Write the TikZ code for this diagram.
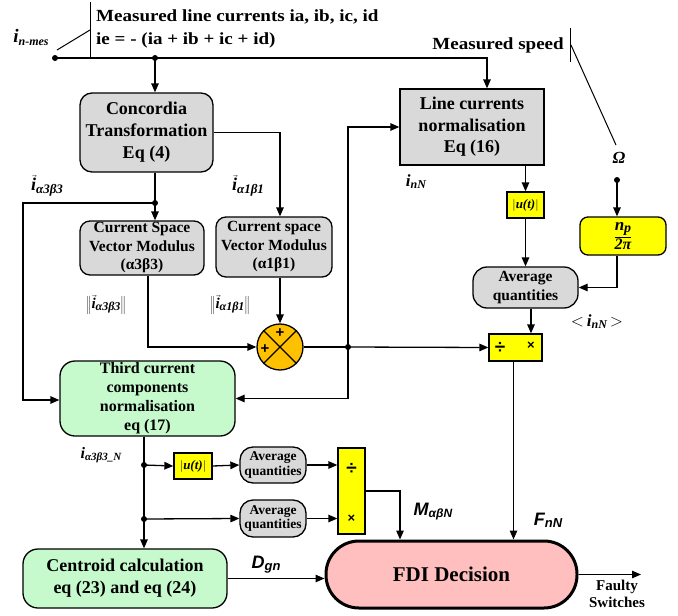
\documentclass[tikz,border=0pt]{standalone}
\usepackage{fontspec}
\setmainfont{Liberation Serif}
\newfontfamily\sansf{Liberation Sans}
\newfontfamily\widef[FakeStretch=1.12]{Liberation Serif}
\usetikzlibrary{arrows.meta}
\definecolor{gfill}{HTML}{D9D9D9}
\definecolor{yfill}{HTML}{FFFF00}
\definecolor{ofill}{HTML}{FFC000}
\definecolor{grfill}{HTML}{C6FACC}
\definecolor{pfill}{HTML}{FFBFBF}
\newcommand\bi[1]{{\bfseries\itshape #1}}
\newcommand\fs[2]{\fontsize{#1}{#2}\selectfont}
\begin{document}
\begin{tikzpicture}[x=1pt,y=-1pt,
  every node/.style={inner sep=0pt},
  ln/.style={line width=1.3pt},
  arr/.style={line width=1.3pt,-{Triangle[length=9pt,width=7.5pt]}},
  dot/.style={circle,fill=black,minimum size=6pt,inner sep=0pt},
  blk/.style={draw,line width=1.3pt,align=center},
  gblk/.style={blk,fill=gfill},
  yblk/.style={blk,fill=yfill},
  grblk/.style={blk,fill=grfill},
  opsign/.style={font=\sansf\bfseries\fs{19}{19}},
  mulsign/.style={font=\sansf\bfseries\fs{13}{13}},
]
\useasboundingbox (0,0) rectangle (678,616);

% ---------- blocks ----------
\node[gblk,rounded corners=12pt,minimum width=133pt,minimum height=79pt,font=\bfseries\fs{18}{22}] (conc) at (146.5,132.5) {Concordia\\Transformation\\Eq (4)};
\node[gblk,minimum width=144pt,minimum height=76pt,font=\bfseries\fs{18}{21.5}] (lcn) at (472,127) {Line currents\\normalisation\\Eq (16)};
\node[gblk,rounded corners=10pt,minimum width=124pt,minimum height=54pt,font=\bfseries\fs{15.5}{18.5}] (cs3) at (142,248) {Current Space\\Vector Modulus\\(α3β3)};
\node[gblk,rounded corners=10pt,minimum width=116pt,minimum height=60pt,font=\bfseries\fs{15.5}{18.5}] (cs1) at (274,247) {Current space\\Vector Modulus\\(α1β1)};
\node[yblk,minimum width=37pt,minimum height=26pt,font=\fs{13}{13}] (uu1) at (525.5,205) {$|$\bi{u(t)}$|$};
\node[gblk,rounded corners=14pt,minimum width=105pt,minimum height=41pt,font=\bfseries\fs{15.5}{19}] (avg1) at (525.5,287.5) {Average\\quantities};
\node[yblk,rounded corners=8pt,minimum width=86pt,minimum height=38pt] (np) at (623,236) {$\displaystyle\frac{\hbox{\fs{17}{17}\bi{n}\raisebox{-2pt}{\fs{14}{14}\bi{p}}}}{\hbox{\fs{16}{16}\bi{2π}}}$};
\node[yblk,minimum width=53pt,minimum height=27pt] (dm1) at (515.5,347.5) {};
\node[opsign] (dv1) at (500,347.5) {÷};
\node[mulsign] (ml1) at (531,346) {×};
\node[circle,draw,line width=1.3pt,fill=ofill,minimum size=46pt] (sum) at (280,347) {};
\draw[line width=1.1pt] (sum.45) -- (sum.225) (sum.135) -- (sum.315);
\node[font=\sansf\bfseries\fs{15}{15}] (p1) at (280,333) {+};
\node[font=\sansf\bfseries\fs{15}{15}] (p2) at (265,349) {+};
\node[grblk,rounded corners=15pt,minimum width=175pt,minimum height=75pt,font=\bfseries\fs{16}{19}] (third) at (147.5,398.5) {Third current\\components\\normalisation\\eq (17)};
\node[yblk,minimum width=38pt,minimum height=26pt,font=\fs{13}{13}] (uu2) at (193,466) {$|$\bi{u(t)}$|$};
\node[gblk,rounded corners=13pt,minimum width=66pt,minimum height=36pt,font=\bfseries\fs{13.5}{14.5}] (avg2) at (273,465) {Average\\quantities};
\node[gblk,rounded corners=13pt,minimum width=66pt,minimum height=37pt,font=\bfseries\fs{13.5}{14.5}] (avg3) at (273,518.5) {Average\\quantities};
\node[yblk,minimum width=27pt,minimum height=86pt] (dm2) at (351.5,491) {};
\node[opsign] (dv2) at (351.5,469) {÷};
\node[mulsign] (ml2) at (351.5,519) {×};
\node[grblk,rounded corners=15pt,minimum width=204pt,minimum height=59pt,font=\bfseries\fs{18}{22}] (cent) at (125,578.5) {Centroid calculation\\eq (23) and eq (24)};
\node[blk,line width=3pt,fill=pfill,rounded corners=33pt,minimum width=251pt,minimum height=67pt,font=\bfseries\fs{21}{21}] (fdi) at (451.5,574.5) {FDI Decision};

% ---------- junction dots and free ends ----------
\node[dot] (d0) at (55,58) {};
\node[dot] (d1) at (155,58) {};
\coordinate (tr) at (487,58);
\node[dot] (d2) at (155,203) {};
\coordinate (lft) at (23,400);
\node[dot] (d3) at (348,347) {};
\coordinate (vt) at (348,127);
\coordinate (vb) at (348,398.5);
\node[dot] (dw) at (617,180) {};
\node[dot] (d4) at (144,465) {};
\node[dot] (d5) at (144,519) {};
\coordinate (mc) at (400,491);
\coordinate (out) at (641,572);

% ---------- connectors ----------
\draw[arr] (d0.center) -- (tr) -- (tr |- lcn.north);
\draw[arr] (d1.center) -- (d1.center |- conc.north);
\draw[ln] (d2.center |- conc.south) -- (d2.center);
\draw[arr] (d2.center) -- (d2.center |- cs3.north);
\draw[arr] (d2.center) -| (lft) -- (lft -| third.west);
\draw[arr] (conc.east) -| ([xshift=6pt]cs1.north);
\draw[arr] ([xshift=6pt]cs1.south) -- (sum.north);
\draw[arr] ([xshift=6pt]cs3.south) |- (sum.west);
\draw[ln] (sum.east) -- (d3.center);
\draw[arr] (d3.center) -- (dm1.west);
\draw[arr] (d3.center) -- (vt) -- (lcn.west);
\draw[arr] (d3.center) -- (vb) -- (third.east);
\draw[arr] (uu1.north |- lcn.south) -- (uu1.north);
\draw[arr] (uu1.south) -- (avg1.north);
\draw[arr] ([xshift=5.5pt]avg1.south) -- ([xshift=5.5pt]avg1.south |- dm1.north);
\draw[arr] ([xshift=-2pt]dm1.south) -- ([xshift=-2pt]dm1.south |- fdi.north);
\draw[arr] (dw.center) -- (dw.center |- np.north);
\draw[arr] ([xshift=-6pt]np.south) |- (avg1.east);
\draw[ln] (d4.center |- third.south) -- (d4.center) -- (d5.center);
\draw[arr] (d5.center) -- (d5.center |- cent.north);
\draw[arr] (d4.center) -- (uu2.west);
\draw[arr] (uu2.east) -- (avg2.west);
\draw[arr] (avg2.east) -- (avg2.east -| dm2.west);
\draw[arr] (d5.center) -- (avg3.west);
\draw[arr] (avg3.east) -- (avg3.east -| dm2.west);
\draw[arr] (dm2.east |- mc) -- (mc) -- (mc |- fdi.north);
\draw[arr] (cent.east) -- (cent.east -| fdi.west);
\draw[arr] (fdi.east) -- (fdi.east -| out);

% ---------- annotation strokes ----------
\draw[line width=1pt] (90,2) -- (90,58);
\draw[line width=1pt] (57,50) -- (90,30);
\draw[line width=1pt] (570,28) -- (570,62);
\draw[line width=1pt] (571,45) -- (616,145);

% ---------- texts ----------
\node[anchor=west,font=\widef\bfseries\fs{17}{17}] (t1) at (96,17) {Measured line currents ia, ib, ic, id};
\node[anchor=west,font=\widef\bfseries\fs{17}{17}] (t2) at (96,40) {ie = - (ia + ib + ic + id)};
\node[anchor=east,font=\widef\bfseries\fs{17}{17}] (t3) at (564,45) {Measured speed};
\node (t4) at (31,37) {\fs{19}{19}\bi{i}\raisebox{-3pt}{\fs{12}{12}\bi{n-mes}}};
\node (t5) at (619,158) {\fs{17}{17}\bi{Ω}};
\node (t6) at (416,182) {\fs{17}{17}\bi{i}\raisebox{-2pt}{\fs{12}{12}\bi{nN}}};
\node (t7) at (597,322) {\fs{17}{17}$<$\,\bi{i}\raisebox{-2pt}{\fs{12}{12}\bi{nN}}\,$>$};
\node (t8) at (47,186) {$\vec{\hbox{\fs{18}{18}\bi{i}}}$\raisebox{-3pt}{\fs{13}{13}\bi{α3β3}}};
\node (t9) at (248,186) {$\vec{\hbox{\fs{18}{18}\bi{i}}}$\raisebox{-3pt}{\fs{13}{13}\bi{α1β1}}};
\node (t10) at (106,305) {$\Big\|\vec{\hbox{\fs{15}{15}\bi{i}}}$\raisebox{-2pt}{\fs{12}{12}\bi{α3β3}}$\Big\|$};
\node (t11) at (230,305) {$\Big\|\vec{\hbox{\fs{15}{15}\bi{i}}}$\raisebox{-2pt}{\fs{12}{12}\bi{α1β1}}$\Big\|$};
\node (t12) at (101,455) {\fs{16}{16}\bi{i}\raisebox{-2pt}{\fs{11}{11}\bi{α3β3\_N}}};
\node (t13) at (548,520) {\sansf\fs{18}{18}\bi{F}\raisebox{-2pt}{\fs{13}{13}\bi{nN}}};
\node (t14) at (433,512) {\sansf\fs{18}{18}\bi{M}\raisebox{-2pt}{\fs{12}{12}\bi{αβN}}};
\node (t15) at (266,565) {\sansf\fs{18}{18}\bi{D}\raisebox{-2pt}{\fs{13}{13}\bi{gn}}};
\node[align=center,font=\bfseries\fs{15}{17.5}] (t16) at (617,594) {Faulty\\Switches};
\end{tikzpicture}
\end{document}
